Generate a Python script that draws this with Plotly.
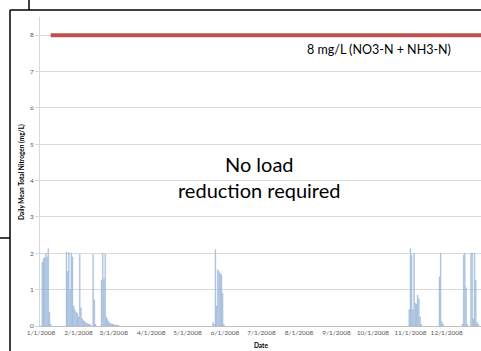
import plotly.graph_objects as go

# daily mean total nitrogen (mg/L), days not listed are zero
dates = [
    "2008-01-02", "2008-01-03", "2008-01-04", "2008-01-05", "2008-01-06", "2008-01-07", "2008-01-08", "2008-01-09",
    "2008-01-22", "2008-01-23", "2008-01-24", "2008-01-25", "2008-01-26", "2008-01-27", "2008-01-28", "2008-01-29",
    "2008-01-30", "2008-01-31", "2008-02-01", "2008-02-02", "2008-02-03", "2008-02-04", "2008-02-05", "2008-02-06",
    "2008-02-07", "2008-02-08", "2008-02-09", "2008-02-10", "2008-02-11",
    "2008-02-13", "2008-02-14", "2008-02-15",
    "2008-02-20", "2008-02-21", "2008-02-22", "2008-02-23", "2008-02-24", "2008-02-25", "2008-02-26", "2008-02-27",
    "2008-02-28", "2008-02-29", "2008-03-01", "2008-03-02", "2008-03-03", "2008-03-04", "2008-03-05",
    "2008-05-22", "2008-05-23", "2008-05-24", "2008-05-25", "2008-05-26", "2008-05-27", "2008-05-28", "2008-05-29",
    "2008-05-30", "2008-05-31",
    "2008-10-31", "2008-11-01", "2008-11-02", "2008-11-03", "2008-11-04", "2008-11-05", "2008-11-06", "2008-11-07",
    "2008-11-08", "2008-11-09", "2008-11-10",
    "2008-11-25", "2008-11-26", "2008-11-27", "2008-11-28",
    "2008-12-14", "2008-12-15", "2008-12-16", "2008-12-17", "2008-12-18",
    "2008-12-21", "2008-12-22", "2008-12-23", "2008-12-24", "2008-12-25", "2008-12-26", "2008-12-27",
]
tn_values = [
    1.75, 1.85, 1.88, 2.0, 1.9, 2.13, 0.38, 0.05,
    2.03, 1.5, 2.02, 1.0, 2.0, 1.9, 0.55, 0.45,
    0.38, 0.35, 0.25, 1.97, 0.5, 0.2, 0.15, 0.12,
    0.1, 0.08, 0.06, 0.05, 0.03,
    1.97, 0.72, 0.05,
    1.25, 2.0, 1.3, 1.98, 0.25, 0.18, 0.12, 0.08,
    0.06, 0.05, 0.04, 0.03, 0.03, 0.02, 0.02,
    0.1, 0.05, 2.1, 0.55, 1.55, 1.5, 1.45, 1.4,
    0.9, 0.05,
    0.45, 2.13, 1.95, 0.45, 2.0, 0.63, 0.6, 0.85,
    0.75, 0.25, 0.05,
    1.35, 2.0, 0.12, 0.05,
    0.05, 1.95, 2.0, 1.05, 0.05,
    2.0, 2.0, 0.2, 2.0, 1.25, 0.1, 0.05,
]

target_dates = ["2008-01-09", "2008-12-31"]
target_values = [8, 8]

month_ticks = ["2008-%02d-01" % m for m in range(1, 13)]
month_labels = ["%d/1/2008" % m for m in range(1, 13)]

W, H = 481, 351
L, R, T, B = 40, 0, 17, 25
PW, PH = W - L - R, H - T - B


def px(x, y):
    # pixel position -> paper coords
    return (x - L) / PW, (H - B - y) / PH


fig = go.Figure()
fig.add_trace(go.Bar(
    x=dates, y=tn_values,
    marker=dict(color="#B9CDE5", line=dict(color="#7BA0CD", width=0.3)),
    showlegend=False,
))
fig.add_trace(go.Scatter(
    x=target_dates, y=target_values, mode="lines",
    line=dict(color="#C0504D", width=4), showlegend=False,
))

shapes = []
for (x0, y0, x1, y1) in [(10, 10, 10, 351), (10, 10, 481, 10), (29, 0, 29, 10), (0, 238, 10, 238)]:
    a0, b0 = px(x0, y0)
    a1, b1 = px(x1, y1)
    shapes.append(dict(type="line", xref="paper", yref="paper", x0=a0, y0=b0, x1=a1, y1=b1,
                       line=dict(color="black", width=1.5)))

annotations = []
ax, ay = px(453, 50)
annotations.append(dict(x=ax, y=ay, xref="paper", yref="paper", xanchor="right", yanchor="middle",
                        text="8 mg/L (NO3-N + NH3-N)", showarrow=False,
                        font=dict(family="Lato", size=12.5, color="black")))
ax, ay = px(259, 177)
annotations.append(dict(x=ax, y=ay, xref="paper", yref="paper", xanchor="center", yanchor="middle",
                        text="No load<br>reduction required", showarrow=False,
                        font=dict(family="Lato", size=20, color="black")))
ax, ay = px(22, 172)
annotations.append(dict(x=ax, y=ay, xref="paper", yref="paper", xanchor="center", yanchor="middle",
                        text="<b>Daily Mean Total Nitrogen (mg/L)</b>", textangle=-90, showarrow=False,
                        font=dict(family="Lato", size=6.5, color="black")))
ax, ay = px(261, 345)
annotations.append(dict(x=ax, y=ay, xref="paper", yref="paper", xanchor="center", yanchor="middle",
                        text="<b>Date</b>", showarrow=False,
                        font=dict(family="Lato", size=6.5, color="black")))

fig.update_layout(
    width=W, height=H,
    margin=dict(l=L, r=R, t=T, b=B),
    paper_bgcolor="white", plot_bgcolor="white",
    bargap=0.3,
    shapes=shapes, annotations=annotations,
    font=dict(family="Lato", color="#595959"),
)
fig.update_xaxes(
    type="date", range=["2007-12-31 04:00", "2008-12-29 07:00"],
    tickvals=month_ticks, ticktext=month_labels, tickangle=0,
    tickfont=dict(size=6.5, color="#595959"),
    showgrid=False, showline=True, linecolor="#BFBFBF", linewidth=1,
    ticks="", zeroline=False, automargin=False,
)
fig.update_yaxes(
    range=[0, 8.5], dtick=1,
    tickfont=dict(size=6.5, color="#595959"),
    showgrid=True, gridcolor="#D9D9D9", gridwidth=1,
    showline=True, linecolor="#D9D9D9", linewidth=1,
    ticks="outside", ticklen=4, tickcolor="#D9D9D9",
    zeroline=False, automargin=False,
)

fig.write_html("out.html", config={"displayModeBar": False},
               post_script="document.body.style.margin='0';")
